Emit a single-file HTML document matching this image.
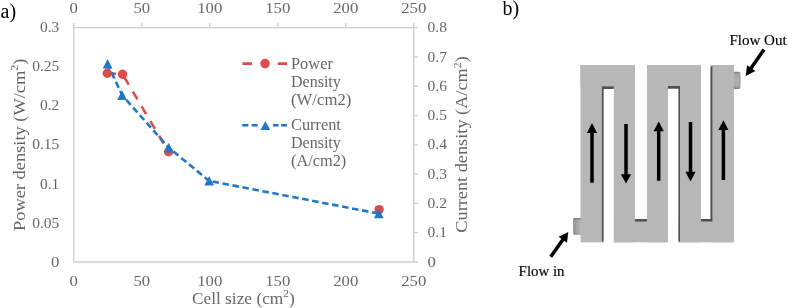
<!DOCTYPE html>
<html><head><meta charset="utf-8">
<style>
html,body{margin:0;padding:0;background:#fff;}
body{width:788px;height:308px;overflow:hidden;}
svg{display:block;will-change:transform;}
text{font-family:"Liberation Serif",serif;}
</style></head>
<body>
<svg width="788" height="308" viewBox="0 0 788 308">

<text x="0.5" y="18" font-size="20" fill="#000">a)</text>
<text x="502.5" y="15.3" font-size="20" fill="#000">b)</text>
<path d="M73.8 27.7 V262.0 H413.8 V27.7 H73.8 M73.80 23 V27.7 M141.80 23 V27.7 M209.80 23 V27.7 M277.80 23 V27.7 M345.80 23 V27.7 M413.80 23 V27.7 M413.8 262.00 H418 M413.8 232.71 H418 M413.8 203.43 H418 M413.8 174.14 H418 M413.8 144.85 H418 M413.8 115.56 H418 M413.8 86.27 H418 M413.8 56.99 H418 M413.8 27.70 H418" stroke="#cdcdcd" stroke-width="1.3" fill="none"/>
<text transform="translate(73.80,13.00) scale(1.08,1)" text-anchor="middle" font-size="15.5" fill="#666666" >0</text>
<text transform="translate(73.80,286.00) scale(1.08,1)" text-anchor="middle" font-size="15.5" fill="#666666" >0</text>
<text transform="translate(141.80,13.00) scale(1.08,1)" text-anchor="middle" font-size="15.5" fill="#666666" >50</text>
<text transform="translate(141.80,286.00) scale(1.08,1)" text-anchor="middle" font-size="15.5" fill="#666666" >50</text>
<text transform="translate(209.80,13.00) scale(1.08,1)" text-anchor="middle" font-size="15.5" fill="#666666" >100</text>
<text transform="translate(209.80,286.00) scale(1.08,1)" text-anchor="middle" font-size="15.5" fill="#666666" >100</text>
<text transform="translate(277.80,13.00) scale(1.08,1)" text-anchor="middle" font-size="15.5" fill="#666666" >150</text>
<text transform="translate(277.80,286.00) scale(1.08,1)" text-anchor="middle" font-size="15.5" fill="#666666" >150</text>
<text transform="translate(345.80,13.00) scale(1.08,1)" text-anchor="middle" font-size="15.5" fill="#666666" >200</text>
<text transform="translate(345.80,286.00) scale(1.08,1)" text-anchor="middle" font-size="15.5" fill="#666666" >200</text>
<text transform="translate(413.80,13.00) scale(1.08,1)" text-anchor="middle" font-size="15.5" fill="#666666" >250</text>
<text transform="translate(413.80,286.00) scale(1.08,1)" text-anchor="middle" font-size="15.5" fill="#666666" >250</text>
<text transform="translate(59.30,266.60) scale(1.08,1)" text-anchor="end" font-size="15.5" fill="#666666" >0</text>
<text transform="translate(59.30,227.55) scale(1.0,1)" text-anchor="end" font-size="15.5" fill="#666666" >0.05</text>
<text transform="translate(59.30,188.50) scale(1.0,1)" text-anchor="end" font-size="15.5" fill="#666666" >0.1</text>
<text transform="translate(59.30,149.45) scale(1.0,1)" text-anchor="end" font-size="15.5" fill="#666666" >0.15</text>
<text transform="translate(59.30,110.40) scale(1.0,1)" text-anchor="end" font-size="15.5" fill="#666666" >0.2</text>
<text transform="translate(59.30,71.35) scale(1.0,1)" text-anchor="end" font-size="15.5" fill="#666666" >0.25</text>
<text transform="translate(59.30,32.30) scale(1.0,1)" text-anchor="end" font-size="15.5" fill="#666666" >0.3</text>
<text transform="translate(427.60,266.60) scale(1.08,1)" text-anchor="start" font-size="15.5" fill="#666666" >0</text>
<text transform="translate(427.60,237.31) scale(1.0,1)" text-anchor="start" font-size="15.5" fill="#666666" >0.1</text>
<text transform="translate(427.60,208.03) scale(1.0,1)" text-anchor="start" font-size="15.5" fill="#666666" >0.2</text>
<text transform="translate(427.60,178.74) scale(1.0,1)" text-anchor="start" font-size="15.5" fill="#666666" >0.3</text>
<text transform="translate(427.60,149.45) scale(1.0,1)" text-anchor="start" font-size="15.5" fill="#666666" >0.4</text>
<text transform="translate(427.60,120.16) scale(1.0,1)" text-anchor="start" font-size="15.5" fill="#666666" >0.5</text>
<text transform="translate(427.60,90.87) scale(1.0,1)" text-anchor="start" font-size="15.5" fill="#666666" >0.6</text>
<text transform="translate(427.60,61.59) scale(1.0,1)" text-anchor="start" font-size="15.5" fill="#666666" >0.7</text>
<text transform="translate(427.60,32.30) scale(1.0,1)" text-anchor="start" font-size="15.5" fill="#666666" >0.8</text>
<text transform="translate(243.3,303.7) scale(1.02,1)" text-anchor="middle" font-size="17" fill="#666666">Cell size (cm<tspan dy="-6.5" font-size="11">2</tspan><tspan dy="6.5">)</tspan></text>
<text transform="translate(24.7,144.8) rotate(-90) scale(1.082,1)" text-anchor="middle" font-size="17" fill="#666666">Power density (W/cm<tspan dy="-6.5" font-size="11">2</tspan><tspan dy="6.5">)</tspan></text>
<text transform="translate(467.3,144.45) rotate(-90) scale(1.076,1)" text-anchor="middle" font-size="17" fill="#666666">Current density (A/cm<tspan dy="-6.5" font-size="11">2</tspan><tspan dy="6.5">)</tspan></text>
<text transform="translate(291,68.6) scale(1.025,1)" font-size="16" fill="#666666">Power</text>
<text transform="translate(291,87) scale(1.0,1)" font-size="16" fill="#666666">Density</text>
<text transform="translate(291,104.5) scale(1.045,1)" font-size="16" fill="#666666">(W/cm2)</text>
<text transform="translate(291,130) scale(1.02,1)" font-size="16" fill="#666666">Current</text>
<text transform="translate(291,148.3) scale(1.0,1)" font-size="16" fill="#666666">Density</text>
<text transform="translate(291,165.5) scale(1.02,1)" font-size="16" fill="#666666">(A/cm2)</text>
<path d="M242.4 63.6 H252 M277.8 63.6 H287" stroke="#dd4c4c" stroke-width="2.6"/>
<circle cx="265" cy="63.6" r="4.8" fill="#dd4c4c"/>
<path d="M242.2 125.3 H248.4 M251.6 125.3 H257.6 M273 125.3 H278.6 M281.2 125.3 H287" stroke="#2176c8" stroke-width="2.6"/>
<path d="M265.4 121 L270.2 130 H260.6 Z" fill="#2176c8"/>
<path d="M107.3 73.2 L122.5 74.2" stroke="#dd4c4c" stroke-width="2.6" fill="none" stroke-dasharray="9 8.1" stroke-dashoffset="0.20"/>
<path d="M122.5 74.2 L168.6 151.8" stroke="#dd4c4c" stroke-width="2.6" fill="none" stroke-dasharray="9 8.1" stroke-dashoffset="13.90"/>
<circle cx="107.3" cy="73.2" r="4.7" fill="#dd4c4c"/>
<circle cx="122.5" cy="74.2" r="4.7" fill="#dd4c4c"/>
<circle cx="168.6" cy="151.8" r="4.7" fill="#dd4c4c"/>
<circle cx="379.1" cy="209.6" r="4.7" fill="#dd4c4c"/>
<path d="M107.6 63.8 L122.1 95.2" stroke="#2176c8" stroke-width="2.6" fill="none" stroke-dasharray="6.5 3.65" stroke-dashoffset="0.45"/>
<path d="M122.1 95.2 L168.8 147.7" stroke="#2176c8" stroke-width="2.6" fill="none" stroke-dasharray="6.5 3.65" stroke-dashoffset="3.75"/>
<path d="M168.8 147.7 L209.2 180.9" stroke="#2176c8" stroke-width="2.6" fill="none" stroke-dasharray="6.5 3.65" stroke-dashoffset="4.25"/>
<path d="M209.2 180.9 L378.8 213.6" stroke="#2176c8" stroke-width="2.6" fill="none" stroke-dasharray="6.5 3.65" stroke-dashoffset="6.75"/>
<path d="M107.6 58.9 L112.39999999999999 68.5 H102.8 Z" fill="#2176c8"/>
<path d="M122.1 90.3 L126.89999999999999 99.9 H117.3 Z" fill="#2176c8"/>
<path d="M168.8 142.79999999999998 L173.60000000000002 152.39999999999998 H164.0 Z" fill="#2176c8"/>
<path d="M209.2 176.0 L214.0 185.6 H204.39999999999998 Z" fill="#2176c8"/>
<path d="M378.8 208.7 L383.6 218.29999999999998 H374.0 Z" fill="#2176c8"/>
<rect x="580.5" y="65" width="23.10" height="177.30" fill="#b7b7b7"/>
<rect x="580.5" y="65" width="54.50" height="21.00" fill="#b7b7b7"/>
<rect x="613.8" y="65" width="21.20" height="177.30" fill="#b7b7b7"/>
<rect x="613.8" y="219" width="54.20" height="23.30" fill="#b7b7b7"/>
<rect x="647" y="65" width="21.00" height="177.30" fill="#b7b7b7"/>
<rect x="647" y="65" width="54.00" height="21.00" fill="#b7b7b7"/>
<rect x="678.5" y="65" width="22.50" height="177.30" fill="#b7b7b7"/>
<rect x="678.5" y="219" width="55.50" height="23.30" fill="#b7b7b7"/>
<rect x="710.5" y="65" width="23.50" height="177.30" fill="#b7b7b7"/>
<path fill="#505050" d="M601.9 86.2 H613.8 V88.9 H603.5 V240.6 L601.9 242.3 Z"/>
<path fill="#505050" d="M667.9 86 H680.0 V242.3 L678.5 240.6 V88.7 H667.9 Z"/>
<rect x="634.9" y="219.1" width="12" height="2.5" fill="#505050"/>
<path fill="#505050" d="M701 219.1 H710.5 V67.4 L712.4 65.3 V221.6 H701 Z"/>
<path d="M592 123.1 L597.1 132.9 H593.75 V182.7 H590.25 V132.9 H586.9 Z" fill="#000"/>
<path d="M626 183.5 L631.1 174.2 H627.75 V124.1 H624.25 V174.2 H620.9 Z" fill="#000"/>
<path d="M658.7 121.5 L663.8000000000001 131.2 H660.45 V180.8 H656.95 V131.2 H653.6 Z" fill="#000"/>
<path d="M690.5 181.5 L695.6 171.8 H692.25 V121.9 H688.75 V171.8 H685.4 Z" fill="#000"/>
<path d="M723.4 120.2 L728.5 130.0 H725.15 V180.0 H721.65 V130.0 H718.3 Z" fill="#000"/>
<path d="M745.80 75.90 L746.99 65.18 L749.75 67.09 L762.56 48.51 L765.44 50.49 L752.63 69.07 L755.39 70.97 Z" fill="#000"/>
<path d="M568.30 232.00 L566.96 242.70 L564.23 240.76 L552.13 257.81 L549.27 255.79 L561.37 238.73 L558.64 236.80 Z" fill="#000"/>
<defs><linearGradient id="nubv" x1="0" y1="0" x2="0" y2="1"><stop offset="0" stop-color="#7c7c7c"/><stop offset="0.12" stop-color="#a4a4a4"/><stop offset="0.5" stop-color="#b2b2b2"/><stop offset="0.85" stop-color="#a6a6a6"/><stop offset="1" stop-color="#808080"/></linearGradient><linearGradient id="nubi" x1="0" y1="0" x2="1" y2="0"><stop offset="0" stop-color="#8e8e8e"/><stop offset="0.5" stop-color="#a6a6a6"/><stop offset="1" stop-color="#b2b2b2"/></linearGradient><linearGradient id="nubt" x1="0" y1="0" x2="0" y2="1"><stop offset="0" stop-color="#000" stop-opacity="0.3"/><stop offset="0.15" stop-color="#000" stop-opacity="0"/><stop offset="0.9" stop-color="#000" stop-opacity="0"/><stop offset="1" stop-color="#000" stop-opacity="0.12"/></linearGradient></defs>
<path d="M734 71.8 H738.8 Q740.4 71.8 740.4 74 V86.7 Q740.4 88.9 738.8 88.9 H734 Z" fill="url(#nubv)"/>
<path d="M739.2 73.5 Q740.4 74.5 740.4 80.35 Q740.4 86.2 739.2 87.2 Z" fill="#9a9a9a"/>
<path d="M580.8 217.9 H574.6 Q573.1 217.9 573.1 219.8 V232.9 Q573.1 234.8 574.6 234.8 H580.8 Z" fill="url(#nubi)"/>
<path d="M580.8 217.9 H574.6 Q573.1 217.9 573.1 219.8 V232.9 Q573.1 234.8 574.6 234.8 H580.8 Z" fill="url(#nubt)"/>
<text transform="translate(729.4,45.4) scale(0.985,1)" font-size="15.3" fill="#000" stroke="#000" stroke-width="0.15">Flow Out</text>
<text transform="translate(518.6,276.1) scale(1.02,1)" font-size="14.6" fill="#000" stroke="#000" stroke-width="0.15">Flow in</text>
</svg>
</body></html>
